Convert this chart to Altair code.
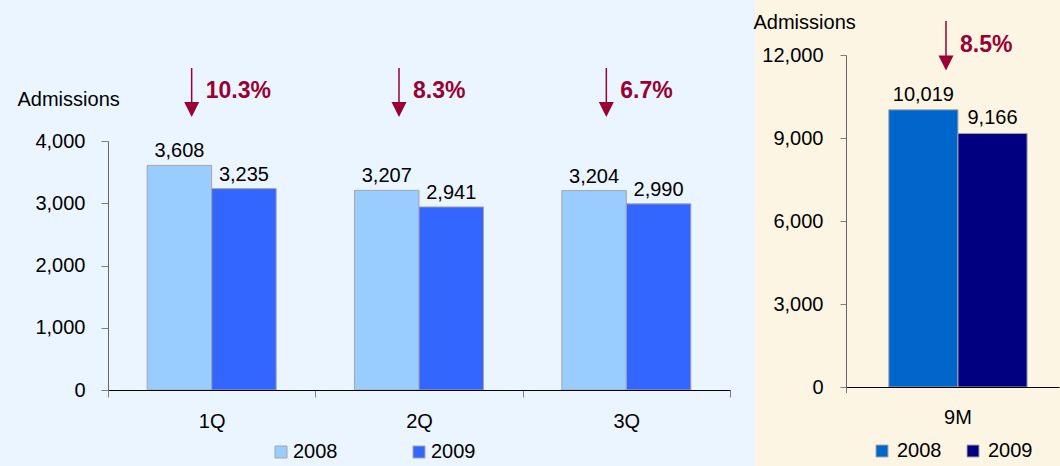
import altair as alt
import pandas as pd

# ---- data ----
quarters = ["1Q", "2Q", "3Q"]
years = ["2008", "2009"]
adm_2008 = [3608, 3207, 3204]
adm_2009 = [3235, 2941, 2990]
q_drop = ["10.3%", "8.3%", "6.7%"]

periods = ["9M"]
ytd_2008 = [10019]
ytd_2009 = [9166]
ytd_drop = ["8.5%"]

left_ticks = [0, 1000, 2000, 3000, 4000]
right_ticks = [0, 3000, 6000, 9000, 12000]

# ---- styles ----
left_colors = ["#99CCFF", "#3366FF"]
right_colors = ["#0066CC", "#000080"]
DARK_RED = "#990033"
BG_LEFT = "#EBF5FF"
BG_RIGHT = "#FDF5E3"
FONT = "Liberation Sans"
BAR_STROKE = "#A6A6A6"
TICK = "#7F7F7F"

LW, LH = 622, 335
RW, RH = 213, 332

q_df = pd.DataFrame({
    "cat": quarters * 2,
    "year": [years[0]] * len(quarters) + [years[1]] * len(quarters),
    "value": adm_2008 + adm_2009,
})
q_ann = pd.DataFrame({"cat": quarters, "drop": q_drop})

r_df = pd.DataFrame({
    "cat": periods * 2,
    "year": [years[0]] * len(periods) + [years[1]] * len(periods),
    "value": ytd_2008 + ytd_2009,
})
r_ann = pd.DataFrame({"cat": periods, "drop": ytd_drop})
one = pd.DataFrame({"k": [0]})

ARROW_PATH = "M-1,-1L1,-1L0,1Z"

# ---------------- left panel ----------------
lx = alt.X("cat:N", title=None,
           scale=alt.Scale(domain=quarters, paddingInner=0, paddingOuter=0),
           axis=alt.Axis(tickBand="extent", tickSize=7, tickColor=TICK,
                         domainColor="#000000", labelFontSize=20, labelPadding=14,
                         labelAngle=0, labelColor="black", zindex=1))
ly = alt.Y("value:Q",
           scale=alt.Scale(domain=[0, 4000], range=[LH, 86]),
           axis=alt.Axis(values=left_ticks, format=",.0f", title="Admissions",
                         titleAngle=0, titleAlign="left", titleBaseline="alphabetic",
                         titleX=-91, titleY=50, titleFontSize=20, titleFontWeight="normal",
                         titleColor="black", tickSize=7, tickColor=TICK,
                         domainColor="#666666", labelFontSize=20, labelPadding=16,
                         labelColor="black", grid=False, zindex=1))
lxo = alt.XOffset("year:N", sort=years, scale=alt.Scale(paddingInner=0, paddingOuter=0.607))

left_bg = alt.Chart(one).mark_rect(color=BG_LEFT).encode(
    x=alt.value(-108), x2=alt.value(647), y=alt.value(-55), y2=alt.value(411))

left_bars = alt.Chart(q_df).mark_bar(stroke=BAR_STROKE, strokeWidth=1).encode(
    x=lx, xOffset=lxo, y=ly,
    color=alt.Color("year:N", scale=alt.Scale(domain=years, range=left_colors),
                    legend=alt.Legend(title=None, orient="none", legendX=163, legendY=387,
                                      direction="horizontal", symbolType="square",
                                      symbolSize=144, labelFontSize=20, labelColor="black",
                                      columnPadding=71, labelOffset=2, padding=0,
                                      symbolStrokeColor=BAR_STROKE, symbolStrokeWidth=1)))

left_labels = alt.Chart(q_df).mark_text(dy=-8, fontSize=20, color="black",
                                        baseline="alphabetic").encode(
    x=lx, xOffset=lxo, y=ly, text=alt.Text("value:Q", format=","))

left_rule = alt.Chart(q_ann).mark_rule(color=DARK_RED, strokeWidth=1.5, xOffset=-20).encode(
    x=lx, y=alt.value(13), y2=alt.value(48))
left_head = alt.Chart(q_ann).mark_point(shape=ARROW_PATH, filled=True, size=225,
                                        color=DARK_RED, opacity=1, xOffset=-20).encode(
    x=lx, y=alt.value(54.5))
left_pct = alt.Chart(q_ann).mark_text(align="left", baseline="alphabetic", fontSize=23,
                                      fontWeight="bold", color=DARK_RED, xOffset=-6).encode(
    x=lx, y=alt.value(43), text="drop:N")

left = alt.layer(left_bg, left_bars, left_labels, left_rule, left_head, left_pct).properties(
    width=LW, height=LH)

# ---------------- right panel ----------------
rx = alt.X("cat:N", title=None,
           scale=alt.Scale(domain=periods, paddingInner=0, paddingOuter=0),
           axis=alt.Axis(ticks=False, domainColor="#000000", labelFontSize=20,
                         labelPadding=20, labelOffset=5.5, labelAngle=0, labelColor="black",
                         zindex=1))
ry = alt.Y("value:Q",
           scale=alt.Scale(domain=[0, 12000]),
           axis=alt.Axis(values=right_ticks, format=",.0f", title="Admissions",
                         titleAngle=0, titleAlign="left", titleBaseline="alphabetic",
                         titleX=-93, titleY=-27, titleFontSize=20, titleFontWeight="normal",
                         titleColor="black", tickSize=6, tickColor=TICK,
                         domainColor="#666666", labelFontSize=20, labelPadding=17,
                         labelColor="black", grid=False, zindex=1))
rxo = alt.XOffset("year:N", sort=years,
                  scale=alt.Scale(paddingInner=0, paddingOuter=0.54, align=0.573))

right_bg = alt.Chart(one).mark_rect(color=BG_RIGHT).encode(
    x=alt.value(-91), x2=alt.value(214), y=alt.value(-55), y2=alt.value(411))

right_bars = alt.Chart(r_df).mark_bar(stroke=BAR_STROKE, strokeWidth=1).encode(
    x=rx, xOffset=rxo, y=ry,
    color=alt.Color("year:N", scale=alt.Scale(domain=years, range=right_colors),
                    legend=alt.Legend(title=None, orient="none", legendX=26, legendY=386,
                                      direction="horizontal", symbolType="square",
                                      symbolSize=144, labelFontSize=20, labelColor="black",
                                      columnPadding=21, labelOffset=5, padding=0,
                                      symbolStrokeColor=BAR_STROKE, symbolStrokeWidth=1)))

right_labels = alt.Chart(r_df).mark_text(dy=-9, fontSize=20, color="black",
                                         baseline="alphabetic").encode(
    x=rx, xOffset=rxo, y=ry, text=alt.Text("value:Q", format=","))

right_tick = alt.Chart(one).mark_rule(color=TICK, strokeWidth=1).encode(
    x=alt.value(0.5), y=alt.value(RH), y2=alt.value(RH + 6))

right_rule = alt.Chart(r_ann).mark_rule(color=DARK_RED, strokeWidth=1.5, xOffset=-6.5).encode(
    x=rx, y=alt.value(-34), y2=alt.value(1))
right_head = alt.Chart(r_ann).mark_point(shape=ARROW_PATH, filled=True, size=225,
                                         color=DARK_RED, opacity=1, xOffset=-6.5).encode(
    x=rx, y=alt.value(8))
right_pct = alt.Chart(r_ann).mark_text(align="left", baseline="alphabetic", fontSize=23,
                                       fontWeight="bold", color=DARK_RED, xOffset=7.5).encode(
    x=rx, y=alt.value(-3), text="drop:N")

right = alt.layer(right_bg, right_bars, right_labels, right_tick,
                  right_rule, right_head, right_pct).properties(width=RW, height=RH)

chart = alt.hconcat(left, right, spacing=116, bounds="flush").resolve_scale(
    x="independent", y="independent", color="independent", xOffset="independent"
).properties(
    background=BG_LEFT, padding=0
).configure(font=FONT).configure_view(stroke=None)

chart.save("out.html", embed_options={"renderer": "svg", "actions": False})
